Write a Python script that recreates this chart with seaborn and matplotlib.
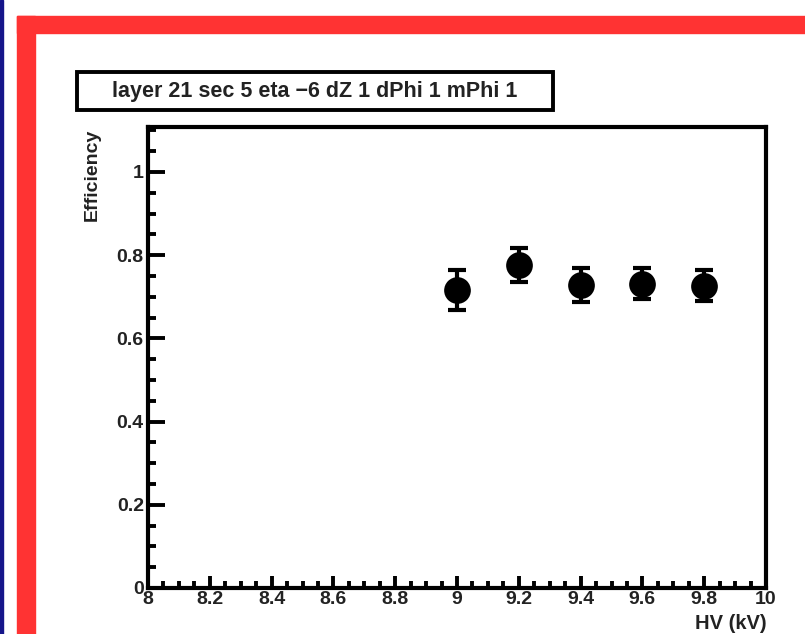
import matplotlib
matplotlib.use('Agg')
import matplotlib.pyplot as plt
import seaborn as sns
import numpy as np
import pandas as pd
from matplotlib.patches import Rectangle
from matplotlib.ticker import MultipleLocator

# values
hv = [9.0, 9.2, 9.4, 9.6, 9.8]
eff = [0.716, 0.776, 0.728, 0.731, 0.727]
eff_err = [0.048, 0.040, 0.040, 0.037, 0.037]
title = 'layer 21 sec 5 eta \u22126 dZ 1 dPhi 1 mPhi 1'
x_ticks = [8, 8.2, 8.4, 8.6, 8.8, 9, 9.2, 9.4, 9.6, 9.8, 10]
y_ticks = [0, 0.2, 0.4, 0.6, 0.8, 1]

df = pd.DataFrame({'hv': hv, 'eff': eff, 'err': eff_err})

sns.set_style('white')
plt.rcParams['font.family'] = ['Liberation Sans', 'DejaVu Sans']

W, H = 805, 634
fig = plt.figure(figsize=(W / 100, H / 100), dpi=100)


def px(x0, y0, x1, y1):
    # pixel box -> figure fraction rect
    return (x0 / W, 1 - y1 / H, (x1 - x0) / W, (y1 - y0) / H)


def frame_rect(box, **kw):
    r = px(*box)
    fig.patches.append(Rectangle(r[:2], r[2], r[3], transform=fig.transFigure, **kw))


# canvas frame: blue edge line and red border
frame_rect((0, 0, 3, H), color='#15158a', zorder=0)
frame_rect((17, 16, W, 33), color='#ff3333', zorder=0)
frame_rect((17, 16, 35, H), color='#ff3333', zorder=0)

ax = fig.add_axes(px(148, 127, 766, 588))

ax.errorbar(df['hv'], df['eff'], yerr=df['err'], fmt='none', ecolor='black',
            elinewidth=3, capsize=6.5, capthick=3, zorder=2)
sns.scatterplot(data=df, x='hv', y='eff', ax=ax, color='black', s=370,
                edgecolor='black', linewidth=0, zorder=3, legend=False)

ax.set_xlim(8, 10)
ax.set_ylim(0, 1.108)
ax.set_xticks(x_ticks)
ax.set_xticklabels([f'{t:g}' for t in x_ticks])
ax.set_yticks(y_ticks)
ax.set_yticklabels([f'{t:g}' for t in y_ticks])
ax.xaxis.set_minor_locator(MultipleLocator(0.05))
ax.yaxis.set_minor_locator(MultipleLocator(0.05))

for s in ax.spines.values():
    s.set_linewidth(3)
    s.set_color('black')

ax.tick_params(axis='both', which='both', direction='in', width=2.8, color='black',
               top=False, right=False, bottom=True, left=True)
ax.tick_params(axis='x', which='major', length=9, labelsize=14, pad=2)
ax.tick_params(axis='x', which='minor', length=5)
ax.tick_params(axis='y', which='major', length=12, labelsize=14, pad=3)
ax.tick_params(axis='y', which='minor', length=6)
for lab in ax.get_xticklabels() + ax.get_yticklabels():
    lab.set_fontweight('bold')
    lab.set_color('#222222')

ax.set_xlabel('')
ax.set_ylabel('')
fig.text(92 / W, 1 - 129 / H, 'Efficiency', rotation=90, ha='center', va='top',
         fontsize=14, fontweight='bold', color='#222222')
fig.text(767 / W, 1 - 633 / H, 'HV (kV)', ha='right', va='bottom',
         fontsize=14.5, fontweight='bold', color='#222222')

# title box
tb = px(77, 72, 553, 110)
fig.patches.append(Rectangle(tb[:2], tb[2], tb[3], transform=fig.transFigure,
                             facecolor='white', edgecolor='black', linewidth=2.8, zorder=1))
fig.text(tb[0] + tb[2] / 2, tb[1] + tb[3] / 2, title, ha='center', va='center',
         fontsize=15.5, fontweight='bold', color='#222222')

fig.savefig('out.png', dpi=100)
